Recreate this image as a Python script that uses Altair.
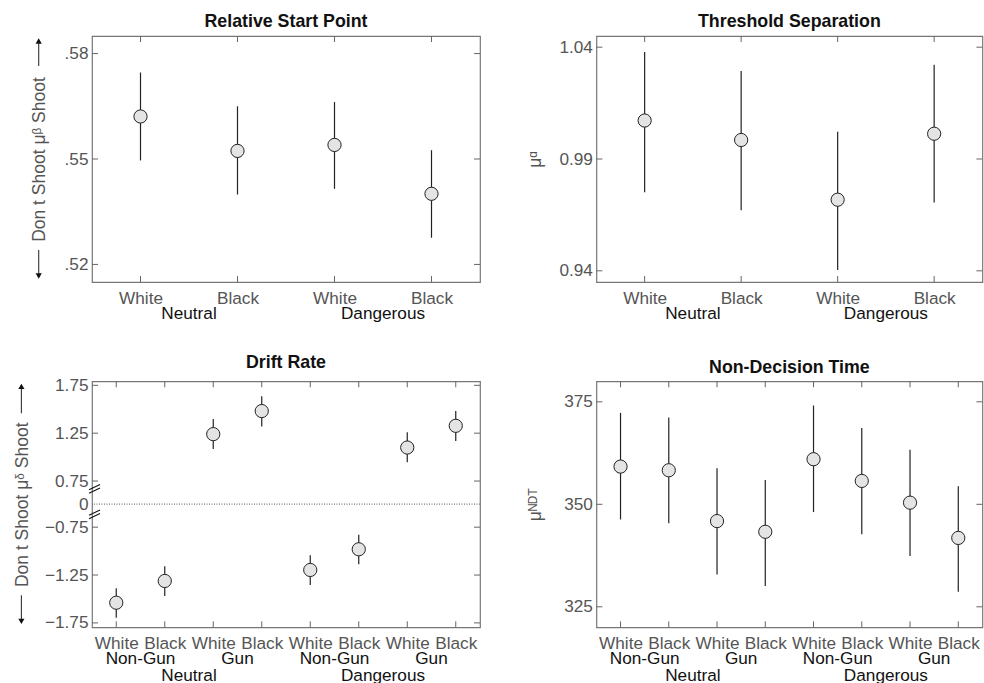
import altair as alt
import pandas as pd

FONT = "Liberation Sans"

# ---------------- data ----------------
races = ["White", "Black"]

start_vals = [0.5621, 0.5523, 0.5540, 0.5401]
start_lo = [0.5496, 0.5399, 0.5415, 0.5276]
start_hi = [0.5746, 0.5650, 0.5662, 0.5525]
start_ticks = [0.52, 0.55, 0.58]

thr_vals = [1.0072, 0.9985, 0.9718, 1.0013]
thr_lo = [0.9751, 0.9671, 0.9404, 0.9706]
thr_hi = [1.0379, 1.0294, 1.0022, 1.0322]
thr_ticks = [0.94, 0.99, 1.04]

drift_vals = [-1.539, -1.312, 1.240, 1.481, -1.197, -0.981, 1.100, 1.327]
drift_lo = [-1.697, -1.469, 1.086, 1.320, -1.354, -1.138, 0.946, 1.169]
drift_hi = [-1.389, -1.159, 1.397, 1.635, -1.044, -0.830, 1.261, 1.481]
drift_ticks = [-1.75, -1.25, -0.75, 0, 0.75, 1.25, 1.75]

ndt_vals = [359.2, 358.3, 345.9, 343.3, 361.0, 355.7, 350.4, 341.8]
ndt_lo = [346.3, 345.4, 332.9, 330.1, 348.1, 342.7, 337.4, 328.7]
ndt_hi = [372.3, 371.2, 358.8, 355.9, 374.1, 368.6, 363.3, 354.4]
ndt_ticks = [325, 350, 375]

contexts = ["Neutral", "Dangerous"]
objects = ["Non-Gun", "Gun", "Non-Gun", "Gun"]

# broken axis for drift: the gap (-0.75 .. 0.75) is compressed
BREAK_SHIFT = 0.509


def brk(v):
    if v > 0:
        return v - BREAK_SHIFT
    if v < 0:
        return v + BREAK_SHIFT
    return 0.0


GRAY = "#555555"
DARK = "#222222"
TL = 6  # inward tick length
TFS = 17.5  # y title font size
LFS = 17.2  # label font size


def make_panel(vals, lo, hi, title, ytitle, ydomain, yticks, ylabel_expr,
               width, height, extent, tpad, group_rows, ytick_skip=()):
    n = len(vals)
    xs = list(range(1, n + 1))
    df = pd.DataFrame({"x": xs, "v": vals, "lo": lo, "hi": hi})
    xscale = alt.Scale(domain=[0.5, n + 0.5], nice=False, zero=False)
    yscale = alt.Scale(domain=ydomain, nice=False, zero=False)
    race_arr = "[" + ",".join("'%s'" % r for r in races) + "]"
    xaxis = alt.Axis(values=xs, labelExpr=race_arr + "[(datum.value - 1) % 2]",
                     title=None, grid=False, ticks=False, tickSize=0, domain=False,
                     labelPadding=7, labelFontSize=LFS, labelColor=GRAY, labelAngle=0,
                     labelFlush=False, labelOverlap=False, labelBound=False, labelFont=FONT)
    yaxis = alt.Axis(values=yticks, labelExpr=ylabel_expr, title=ytitle,
                     titleFontSize=TFS, titleColor=GRAY, titleFontWeight="normal",
                     titleFont=FONT, titlePadding=tpad, minExtent=extent, maxExtent=extent,
                     grid=False, ticks=False, tickSize=0, domain=False, labelPadding=4,
                     labelFontSize=LFS, labelColor=GRAY, labelOverlap=False,
                     labelFlush=False, labelFont=FONT)
    base = alt.Chart(df)
    err = base.mark_rule(color=DARK, strokeWidth=1.2).encode(
        x=alt.X("x:Q", scale=xscale, axis=xaxis),
        y=alt.Y("lo:Q", scale=yscale, axis=yaxis),
        y2="hi:Q")
    pts = base.mark_circle(size=175, color="#e4e4e4", stroke=DARK, strokeWidth=1,
                           opacity=1).encode(x="x:Q", y="v:Q")
    xt = alt.Chart(pd.DataFrame({"x": xs}))
    yt = alt.Chart(pd.DataFrame({"y": [t for t in yticks if t not in ytick_skip]}))
    tcol = "#666666"
    ticks = [
        xt.mark_rule(color=tcol).encode(x="x:Q", y=alt.value(0), y2=alt.value(TL)),
        xt.mark_rule(color=tcol).encode(x="x:Q", y=alt.value(height - TL), y2=alt.value(height)),
        yt.mark_rule(color=tcol).encode(y="y:Q", x=alt.value(0), x2=alt.value(TL)),
        yt.mark_rule(color=tcol).encode(y="y:Q", x=alt.value(width - TL), x2=alt.value(width)),
    ]
    layers = [err] + ticks + [pts]
    for (centers, labels, ypos) in group_rows:
        g = pd.DataFrame({"x": centers, "label": labels})
        layers.append(alt.Chart(g).mark_text(fontSize=LFS, color="#111111", font=FONT,
                                             baseline="alphabetic", align="center").encode(
            x="x:Q", y=alt.value(ypos), text="label:N"))
    return layers, alt.TitleParams(text=title, fontSize=17.8, fontWeight="bold", color="#111111",
                                   font=FONT, anchor="middle", frame="group",
                                   baseline="alphabetic", offset=-9.5)


def axis_arrows(xrel, top_tip, top_end, bot_start, bot_tip):
    one = alt.Chart(pd.DataFrame({"k": [0]}))
    col = "#333333"
    return [
        one.mark_rule(color=col, strokeWidth=1.1).encode(
            x=alt.value(xrel), y=alt.value(top_tip + 3), y2=alt.value(top_end)),
        one.mark_rule(color=col, strokeWidth=1.1).encode(
            x=alt.value(xrel), y=alt.value(bot_start), y2=alt.value(bot_tip - 3)),
        one.mark_point(shape="triangle-up", filled=True, size=38, color="#111111",
                       opacity=1).encode(x=alt.value(xrel), y=alt.value(top_tip + 4)),
        one.mark_point(shape="triangle-down", filled=True, size=38, color="#111111",
                       opacity=1).encode(x=alt.value(xrel), y=alt.value(bot_tip - 4)),
    ]


W1, W2, H = 388, 386, 246

# top-left
l, t = make_panel(start_vals, start_lo, start_hi, "Relative Start Point",
                  "Don t Shoot μᵝ Shoot", [0.515, 0.585], start_ticks,
                  "substring(format(datum.value, '.2f'), 1)", W1, H, 30, 14,
                  [([1.5, 3.5], contexts, H + 37)])
tl = alt.layer(*(l + axis_arrows(-53.3, 1, 30, 214, 244))).properties(width=W1, height=H, title=t)

# top-right
l, t = make_panel(thr_vals, thr_lo, thr_hi, "Threshold Separation",
                  "μᵅ", [0.935, 1.045], thr_ticks,
                  "format(datum.value, '.2f')", W2, H, 39, 13,
                  [([1.5, 3.5], contexts, H + 37)])
tr = alt.layer(*l).properties(width=W2, height=H, title=t)

# bottom-left (broken axis)
d_v = [brk(v) for v in drift_vals]
d_lo = [brk(v) for v in drift_lo]
d_hi = [brk(v) for v in drift_hi]
d_ticks = [brk(v) for v in drift_ticks]
drift_expr = ("datum.value > 0.01 ? format(datum.value + %g, '.2f') : "
              "(datum.value < -0.01 ? format(datum.value - %g, '.2f') : '0')") % (BREAK_SHIFT, BREAK_SHIFT)
l, t = make_panel(d_v, d_lo, d_hi, "Drift Rate",
                  "Don t Shoot  μᵟ Shoot", [-1.287, 1.283], d_ticks, drift_expr,
                  W1, H, 46, 15,
                  [([1.5, 3.5, 5.5, 7.5], objects, H + 37),
                   ([2.5, 6.5], contexts, H + 54)], ytick_skip=(0.0,))
zero = alt.Chart(pd.DataFrame({"z": [0]})).mark_rule(color=GRAY, strokeDash=[1, 1.5],
                                                     strokeWidth=1).encode(y="z:Q")
bm = pd.DataFrame({"y": [0.159 - 0.045, 0.159 - 0.01, -0.107 - 0.045, -0.107 - 0.01],
                   "y2": [0.159 + 0.01, 0.159 + 0.045, -0.107 + 0.01, -0.107 + 0.045]})
brk_marks = alt.Chart(bm).mark_rule(color="#111111", strokeWidth=1.1).encode(
    y="y:Q", y2="y2:Q", x=alt.value(-3), x2=alt.value(8))
bl = alt.layer(*(l[:1] + [zero] + l[1:] + [brk_marks] + axis_arrows(-70.6, 1, 32, 214, 244))
               ).properties(width=W1, height=H, title=t)

# bottom-right
l, t = make_panel(ndt_vals, ndt_lo, ndt_hi, "Non-Decision Time",
                  "μᴺᴰᵀ", [320, 380], ndt_ticks, "format(datum.value, 'd')",
                  W2, H, 34, 18,
                  [([1.5, 3.5, 5.5, 7.5], objects, H + 37),
                   ([2.5, 6.5], contexts, H + 54)])
br = alt.layer(*l).properties(width=W2, height=H, title=t)

chart = alt.concat(tl, tr, bl, br, columns=2, spacing={"row": 99.3, "column": 116.4},
                   bounds="flush", padding={"left": 12, "top": 12, "right": 0, "bottom": 0}
                   ).configure(font=FONT).configure_view(stroke="#777777", strokeWidth=1.2)

chart.save("out.html", embed_options={"renderer": "svg", "actions": False})
